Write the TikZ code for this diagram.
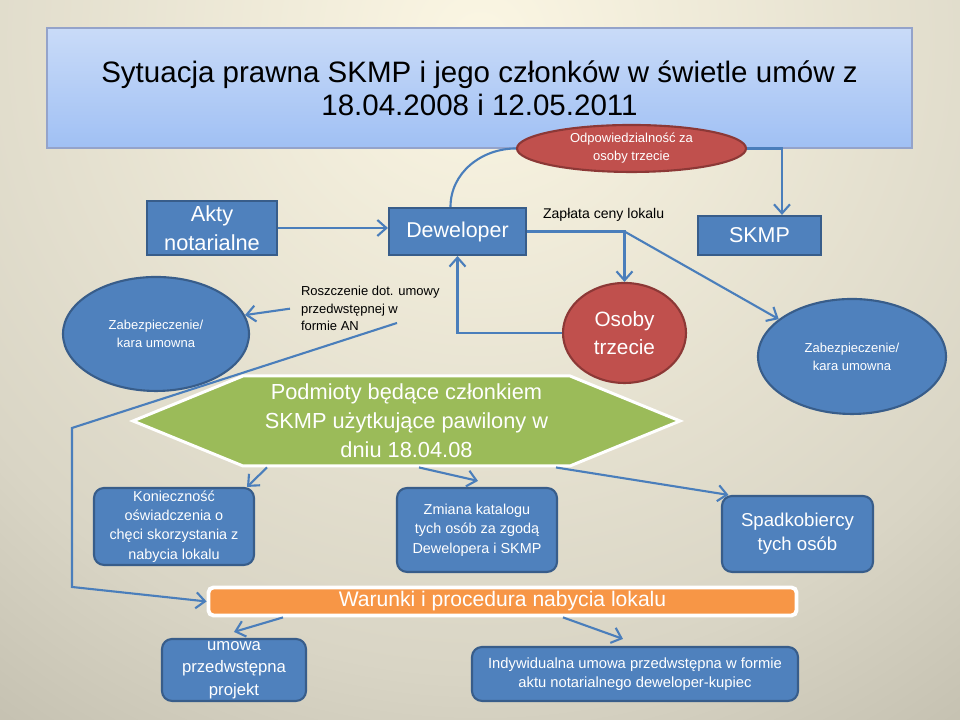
\documentclass[tikz,border=0pt]{standalone}
\usepackage{fontspec}
\setmainfont{Liberation Sans}
\usetikzlibrary{shapes.geometric,shapes.symbols,arrows.meta,positioning}
\definecolor{bgA}{HTML}{FBF6E3}
\definecolor{bgB}{HTML}{D9D5C5}
\definecolor{bgC}{HTML}{B9B5A5}
\definecolor{bgD}{HTML}{9D9A8D}
\definecolor{bgE}{HTML}{8D8A7E}
\definecolor{pblue}{HTML}{4F81BD}
\definecolor{pblueline}{HTML}{385D8A}
\definecolor{pred}{HTML}{C0504D}
\definecolor{predline}{HTML}{8C3836}
\definecolor{pgreen}{HTML}{9BBB59}
\definecolor{porange}{HTML}{F79646}
\definecolor{ptop}{HTML}{C9DBF8}
\definecolor{pbot}{HTML}{A0C0F4}
\definecolor{pframe}{HTML}{94A3CA}
\definecolor{plink}{HTML}{4A7EBB}
\pgfdeclareradialshading{bgshade}{\pgfpoint{0bp}{0bp}}{color(0bp)=(bgA); color(19bp)=(bgB); color(29bp)=(bgC); color(41bp)=(bgD); color(50bp)=(bgE)}
\newcommand{\txtsize}[2]{\fontsize{#1}{#2}\selectfont}
\begin{document}
\begin{tikzpicture}[line width=0.6pt,
  box/.style={draw=pblueline, fill=pblue, text=white, align=center, inner sep=0pt},
  rbox/.style={box, rounded corners=0.1cm},
  ell/.style={ellipse, draw=pblueline, fill=pblue, text=white, align=center, inner sep=0pt},
  redell/.style={ell, draw=predline, fill=pred},
  link/.style={draw=plink, -{Straight Barb[length=0.9mm,width=1.6mm]}},
  plain/.style={draw=plink}]
  \useasboundingbox (0,0) rectangle (9.6,7.2);
  \clip (0,0) rectangle (9.6,7.2);
  \shade[shading=bgshade] (-3.5,-1.5) rectangle (13.1,15.1);

  \node[draw=pframe, top color=ptop, bottom color=pbot, minimum width=8.65cm, minimum height=1.2cm, align=center, font=\txtsize{8.4}{9.4}] (title) at (4.795,6.32) {Sytuacja prawna SKMP i jego członków w świetle umów z\\18.04.2008 i 12.05.2011};
  \node[redell, minimum width=2.29cm, minimum height=0.47cm, font=\txtsize{3.7}{5.1}] (liab) at (6.315,5.715) {Odpowiedzialność za\\osoby trzecie};
  \node[box, minimum width=1.30cm, minimum height=0.54cm, font=\txtsize{6.2}{8.2}] (acts) at (2.12,4.92) {Akty\\notarialne};
  \node[box, minimum width=1.37cm, minimum height=0.47cm, font=\txtsize{6.1}{8}] (dev) at (4.575,4.885) {Deweloper};
  \node[box, minimum width=1.23cm, minimum height=0.39cm, font=\txtsize{6.1}{8}] (skmp) at (7.595,4.845) {SKMP};
  \node[anchor=west, inner sep=0pt, font=\txtsize{4}{5}] (pay) at (5.42,5.05) {Zapłata ceny lokalu};
  \node[redell, minimum width=1.23cm, minimum height=1.0cm, font=\txtsize{5.9}{8}] (third) at (6.245,3.87) {Osoby\\trzecie};
  \node[ell, minimum width=1.86cm, minimum height=1.14cm, font=\txtsize{3.7}{5.1}] (secl) at (1.56,3.86) {Zabezpieczenie/\\kara umowna};
  \node[ell, minimum width=1.88cm, minimum height=1.15cm, font=\txtsize{3.7}{5.1}] (secr) at (8.52,3.635) {Zabezpieczenie/\\kara umowna};
  \node[anchor=west, align=left, inner sep=0pt, font=\txtsize{3.7}{5}] (claim) at (3.0,4.113) {Roszczenie dot. umowy\\przedwstępnej w\\formie AN};
  \coordinate (cstart) at (3.97,3.97);
  \node[signal, signal to=west and east, signal pointer angle=44.5, draw=white, line width=0.85pt, fill=pgreen, text=white, align=center, inner sep=0pt, minimum width=5.47cm, minimum height=0.90cm, font=\txtsize{6.2}{8.2}] (members) at (4.065,2.99) {Podmioty będące członkiem\\SKMP użytkujące pawilony w\\dniu 18.04.08};
  \node[rbox, minimum width=1.60cm, minimum height=0.77cm, font=\txtsize{4.1}{5.5}] (need) at (1.74,1.935) {Konieczność\\oświadczenia o\\chęci skorzystania z\\nabycia lokalu};
  \node[rbox, minimum width=1.60cm, minimum height=0.84cm, font=\txtsize{4.1}{5.5}] (change) at (4.77,1.90) {Zmiana katalogu\\tych osób za zgodą\\Dewelopera i SKMP};
  \node[rbox, minimum width=1.51cm, minimum height=0.76cm, font=\txtsize{5.3}{6.8}] (heirs) at (7.975,1.86) {Spadkobiercy\\tych osób};
  \node[draw=white, line width=1.1pt, fill=porange, text=white, rounded corners=0.05cm, inner sep=0pt, minimum width=5.88cm, minimum height=0.28cm, font=\txtsize{6}{7}] (terms) at (5.025,1.185) {Warunki i procedura nabycia lokalu};
  \node[rbox, minimum width=1.44cm, minimum height=0.62cm, font=\txtsize{4.75}{6.4}] (draft) at (2.34,0.50) {umowa\\przedwstępna\\projekt};
  \node[rbox, minimum width=3.26cm, minimum height=0.54cm, font=\txtsize{4.2}{5.4}] (indiv) at (6.35,0.46) {Indywidualna umowa przedwstępna w formie\\aktu notarialnego deweloper-kupiec};

  \draw[link] (acts.east) -- (acts.east -| dev.west);
  \draw[plain] ([xshift=-0.07cm]dev.north) to[out=90, in=180] (liab.west);
  \draw[link] (liab.east) -| ([xshift=0.225cm]skmp.north);
  \draw[link] (dev.east) -| (third.north);
  \draw[link] (dev.east -| third.north) -- (secr.153);
  \draw[link] (third.west) -| (dev.south);
  \draw[link] ([xshift=-0.1cm]claim.west) -- (secl.12);
  \draw[link] (cstart) -- (0.72,2.92) -- (0.72,1.33) -- (terms.west);
  \draw[link] ([xshift=-1.395cm]members.south) -- ([xshift=0.73cm]need.north);
  \draw[link] ([xshift=0.125cm]members.south) -- ([xshift=0.01cm,yshift=0.06cm]change.north);
  \draw[link] ([xshift=1.495cm]members.south) -- ([xshift=-0.69cm]heirs.north);
  \draw[link] ([xshift=-2.195cm]terms.south) -- ([yshift=0.06cm]draft.north);
  \draw[link] ([xshift=0.605cm]terms.south) -- ([xshift=-0.12cm,yshift=0.07cm]indiv.north);
\end{tikzpicture}
\end{document}
